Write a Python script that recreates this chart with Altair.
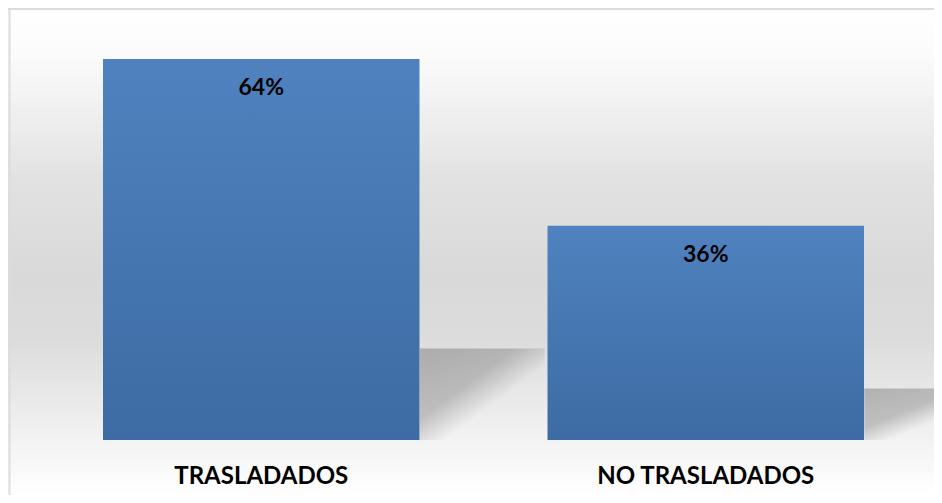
import altair as alt
import pandas as pd

categories = ["TRASLADADOS", "NO TRASLADADOS"]
values = [64, 36]
labels = ["64%", "36%"]

df = pd.DataFrame({"cat": categories, "v": values, "lab": labels})

W, H = 926, 487

xscale = alt.Scale(domain=categories, range=[95, 856], paddingInner=0.288, paddingOuter=0)
yscale = alt.Scale(domain=[0, 64], range=[432, 51], nice=False, zero=False)

bg_grad = alt.LinearGradient(
    gradient="linear", x1=0, y1=0, x2=0, y2=1,
    stops=[
        alt.GradientStop(offset=0.0, color="#ffffff"),
        alt.GradientStop(offset=0.10, color="#fbfbfb"),
        alt.GradientStop(offset=0.35, color="#e2e2e2"),
        alt.GradientStop(offset=0.55, color="#d9d9d9"),
        alt.GradientStop(offset=0.68, color="#dcdcdc"),
        alt.GradientStop(offset=0.80, color="#e9e9e9"),
        alt.GradientStop(offset=0.89, color="#f3f3f3"),
        alt.GradientStop(offset=1.0, color="#ffffff"),
    ],
)

bar_grad = alt.LinearGradient(
    gradient="linear", x1=0, y1=0, x2=0, y2=1,
    stops=[
        alt.GradientStop(offset=0.0, color="#4f82bf"),
        alt.GradientStop(offset=1.0, color="#3d6ba3"),
    ],
)

shadow_grad = alt.LinearGradient(
    gradient="linear", x1=0, y1=0, x2=1, y2=1,
    stops=[
        alt.GradientStop(offset=0.0, color="rgba(90,90,90,0.38)"),
        alt.GradientStop(offset=0.38, color="rgba(90,90,90,0.32)"),
        alt.GradientStop(offset=0.60, color="rgba(90,90,90,0.0)"),
        alt.GradientStop(offset=1.0, color="rgba(90,90,90,0.0)"),
    ],
)

background = alt.Chart(alt.Data(values=[{}])).mark_rect(color=bg_grad).encode(
    x=alt.value(0), x2=alt.value(W), y=alt.value(0), y2=alt.value(H)
)

base = alt.Chart(df)
xenc = alt.X("cat:N", scale=xscale, axis=None, sort=categories)

shadows = base.transform_calculate(sh="datum.v * 0.24").mark_bar(
    color=shadow_grad, width=125, xOffset=221, clip=True
).encode(
    x=xenc,
    y=alt.Y("sh:Q", scale=yscale, axis=None),
    y2=alt.datum(0),
)

bars = base.mark_bar(color=bar_grad).encode(
    x=xenc,
    y=alt.Y("v:Q", scale=yscale, axis=None),
    y2=alt.datum(0),
)

texts = base.mark_text(
    font="Lato", fontSize=23, fontWeight="bold", color="#000000",
    baseline="middle", dy=29,
).encode(
    x=xenc,
    y=alt.Y("v:Q", scale=yscale, axis=None),
    text="lab:N",
)

cat_labels = base.mark_text(
    font="Lato", fontSize=24, fontWeight="bold", color="#000000",
    baseline="middle",
).encode(
    x=xenc,
    y=alt.value(469),
    text="cat:N",
)

border_left = alt.Chart(alt.Data(values=[{}])).mark_rule(color="#dcdcdc", strokeWidth=2).encode(
    x=alt.value(1.5), y=alt.value(0), y2=alt.value(H)
)
border_top = alt.Chart(alt.Data(values=[{}])).mark_rule(color="#dcdcdc", strokeWidth=2).encode(
    y=alt.value(1), x=alt.value(0), x2=alt.value(W)
)

chart = alt.layer(background, shadows, bars, texts, cat_labels, border_left, border_top).properties(
    width=W, height=H, padding=0, autosize=alt.AutoSizeParams(type="none"),
    background="#fdfaf8",
).configure_view(stroke=None)

chart.save("out.html", embed_options={"renderer": "svg", "actions": False})
